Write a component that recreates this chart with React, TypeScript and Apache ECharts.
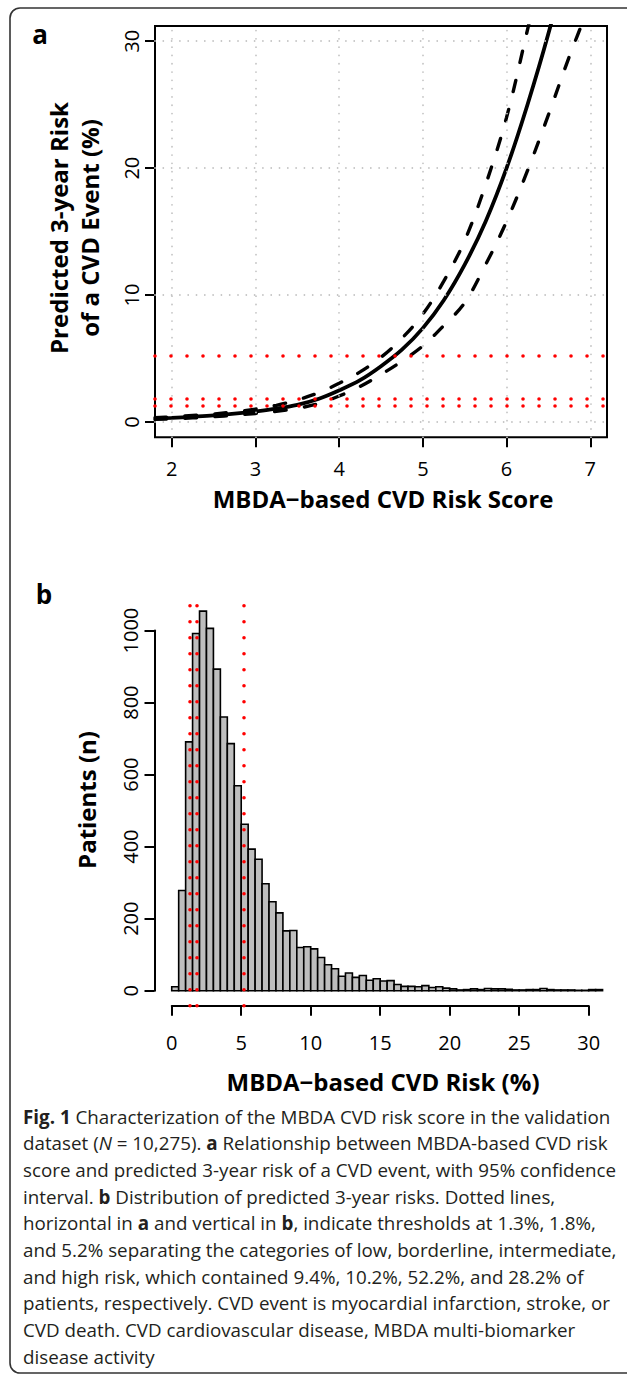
import React, { useEffect, useRef } from "react";
import * as echarts from "echarts";

// ---------- Panel a: risk score vs predicted 3-year risk ----------
const riskScore = [1.8, 2.0, 2.25, 2.5, 2.75, 3.0, 3.25, 3.5, 3.75, 4.0, 4.25, 4.5, 4.75, 5.0, 5.25, 5.5, 5.75, 6.0, 6.25, 6.5, 6.75, 7.0];
const riskPredicted = [0.27, 0.33, 0.42, 0.52, 0.66, 0.84, 1.06, 1.36, 1.82, 2.5, 3.3, 4.4, 5.7, 7.4, 9.6, 12.4, 15.8, 20.0, 25.0, 30.6, 37, 44];
const riskUpper95 = [0.34, 0.41, 0.52, 0.64, 0.8, 1.02, 1.32, 1.74, 2.3, 3.05, 3.95, 5.1, 6.6, 8.5, 11.1, 14.3, 18.7, 24.0, 30.9, 38, 46, 55];
const riskLower95 = [0.21, 0.26, 0.33, 0.42, 0.54, 0.68, 0.85, 1.08, 1.45, 2.05, 2.8, 3.75, 4.8, 6.0, 7.6, 9.4, 12.4, 15.8, 19.8, 24.2, 28.8, 33];
const scoreTicks = [2, 3, 4, 5, 6, 7];
const riskTicks = [0, 10, 20, 30];
const thresholds = [1.3, 1.8, 5.2];

// ---------- Panel b: histogram of predicted risk ----------
const histBinStart = 0;
const histBinWidth = 0.5;
const histCounts = [
  11, 278, 691, 992, 1054, 1006, 893, 760, 686, 569,
  462, 393, 365, 297, 247, 216, 166, 167, 120, 122,
  116, 92, 72, 61, 40, 49, 37, 42, 29, 33,
  27, 28, 17, 12, 12, 11, 14, 9, 11, 7,
  5, 2, 3, 5, 3, 6, 5, 5, 4, 2,
  2, 3, 3, 6, 3, 2, 2, 2, 1, 1, 3, 3,
];
const histXTicks = [0, 5, 10, 15, 20, 25, 30];
const histYTicks = [0, 200, 400, 600, 800, 1000];

const captionLines = [
  "{b|Fig. 1} Characterization of the MBDA CVD risk score in the validation",
  "dataset ({i|N} = 10,275). {b|a} Relationship between MBDA-based CVD risk",
  "score and predicted 3-year risk of a CVD event, with 95% confidence",
  "interval. {b|b} Distribution of predicted 3-year risks. Dotted lines,",
  "horizontal in {b|a} and vertical in {b|b}, indicate thresholds at 1.3%, 1.8%,",
  "and 5.2% separating the categories of low, borderline, intermediate,",
  "and high risk, which contained 9.4%, 10.2%, 52.2%, and 28.2% of",
  "patients, respectively. CVD event is myocardial infarction, stroke, or",
  "CVD death. CVD cardiovascular disease, MBDA multi-biomarker",
  "disease activity",
];

// ---------- layout ----------
const FONT = "'Open Sans', 'Noto Sans', sans-serif";
const CAP = 18.8;
const A = { left: 155, top: 26, width: 452, height: 411.3 };
const aX = [1.8, 7.2];
const aY = [-1.2, 31.2];
const B = { left: 154.5, top: 596, width: 465.3, height: 409.8 };
const bX = [-1.24, 32.24];
const bY = [-42, 1096];

function helperGrid(G: any, xr: number[], yr: number[], xt: number[], yt: number[]) {
  const l = G.left + ((xt[0] - xr[0]) / (xr[1] - xr[0])) * G.width;
  const r = G.left + ((xt[xt.length - 1] - xr[0]) / (xr[1] - xr[0])) * G.width;
  const t = G.top + ((yr[1] - yt[yt.length - 1]) / (yr[1] - yr[0])) * G.height;
  const b = G.top + ((yr[1] - yt[0]) / (yr[1] - yr[0])) * G.height;
  return { l, r, t, b, xOff: G.top + G.height - b, yOff: l - G.left };
}

const dotted = (color: string, width: number, gap: number) => ({
  color,
  width,
  type: [0.001, gap],
  cap: "round",
});

export default function App() {
  const ref = useRef<HTMLDivElement>(null);
  useEffect(() => {
    if (!ref.current) return;
    const chart = echarts.init(ref.current, undefined, { renderer: "svg" });
    const ha = helperGrid(A, aX, aY, scoreTicks, riskTicks);
    const hb = helperGrid(B, bX, bY, histXTicks, histYTicks);

    const hiddenAxis = (gridIndex: number, min: number, max: number) => ({
      type: "value",
      gridIndex,
      min,
      max,
      show: false,
      splitLine: { show: false },
    });
    const visAxis = (gridIndex: number, ticks: number[], pos: string, offset: number, showLine: boolean, margin: number, rotate = 0) => ({
      type: "value",
      gridIndex,
      min: ticks[0],
      max: ticks[ticks.length - 1],
      interval: ticks[1] - ticks[0],
      position: pos,
      offset,
      axisLine: { show: showLine, onZero: false, lineStyle: { color: "#000", width: 2 } },
      axisTick: { show: true, length: 10, inside: false, lineStyle: { color: "#000", width: 2 } },
      axisLabel: {
        show: true,
        color: "#000",
        fontSize: 20,
        fontFamily: FONT,
        margin,
        rotate,
        formatter: (v: number) => String(v),
      },
      splitLine: { show: false },
    });

    const toPairs = (ys: number[]) => riskScore.map((x, i) => [x, ys[i]]);
    const histData = histCounts.map((c, i) => [histBinStart + i * histBinWidth, histBinStart + (i + 1) * histBinWidth, c]);

    const gray = dotted("#c4c4c4", 1.8, 8.3);
    const red = dotted("#ff0000", 3.6, 16);

    const caption = captionLines.map((t, i) => ({
      type: "text",
      x: 23,
      y: 1116.7 + i * 26.65,
      silent: true,
      style: {
        text: t,
        fill: "#231f20",
        fontSize: CAP,
        fontFamily: FONT,
        align: "left",
        verticalAlign: "middle",
        textAlign: "left",
        textVerticalAlign: "middle",
        rich: {
          b: { fontWeight: "bold", fontSize: CAP, fontFamily: FONT, fill: "#231f20" },
          i: { fontStyle: "italic", fontSize: CAP, fontFamily: FONT, fill: "#231f20" },
        },
      },
    }));

    const txt = (text: string, x: number, y: number, size: number, rot = 0) => ({
      type: "text",
      x,
      y,
      rotation: rot,
      silent: true,
      style: {
        text,
        fill: "#000",
        fontSize: size,
        fontWeight: "bold",
        fontFamily: FONT,
        align: "center",
        verticalAlign: "middle",
        textAlign: "center",
        textVerticalAlign: "middle",
      },
    });

    const curve = (name: string, ys: number[], width: number, dashed: boolean, z: number) => ({
      type: "line",
      name,
      xAxisIndex: 0,
      yAxisIndex: 0,
      data: toPairs(ys),
      smooth: 0.35,
      symbol: "none",
      clip: true,
      z,
      lineStyle: dashed
        ? { color: "#000", width, type: [11.5, 18.5], cap: "round" }
        : { color: "#000", width },
    });

    const option: any = {
      animation: false,
      textStyle: { fontFamily: FONT },
      grid: [
        { left: A.left, top: A.top, width: A.width, height: A.height, show: true, borderColor: "#000", borderWidth: 2, backgroundColor: "transparent", containLabel: false, outerBoundsMode: "none" },
        { left: ha.l, top: ha.t, width: ha.r - ha.l, height: ha.b - ha.t, containLabel: false, outerBoundsMode: "none" },
        { left: B.left, top: B.top, width: B.width, height: B.height, containLabel: false, outerBoundsMode: "none" },
        { left: hb.l, top: hb.t, width: hb.r - hb.l, height: hb.b - hb.t, containLabel: false, outerBoundsMode: "none" },
      ],
      xAxis: [
        hiddenAxis(0, aX[0], aX[1]),
        visAxis(1, scoreTicks, "bottom", ha.xOff, false, 21),
        hiddenAxis(2, bX[0], bX[1]),
        visAxis(3, histXTicks, "bottom", hb.xOff, true, 27),
      ],
      yAxis: [
        hiddenAxis(0, aY[0], aY[1]),
        visAxis(1, riskTicks, "left", ha.yOff, false, 14, 90),
        hiddenAxis(2, bY[0], bY[1]),
        visAxis(3, histYTicks, "left", hb.yOff, true, 14, 90),
      ],
      series: [
        {
          type: "line",
          xAxisIndex: 0,
          yAxisIndex: 0,
          data: [],
          z: 1,
          silent: true,
          markLine: {
            silent: true,
            symbol: "none",
            label: { show: false },
            lineStyle: gray,
            data: [
              ...scoreTicks.map((v) => [{ coord: [v, aY[0]] }, { coord: [v, aY[1]] }]),
              ...riskTicks.map((v) => [{ coord: [aX[0], v] }, { coord: [aX[1], v] }]),
            ],
          },
        },
        curve("upper", riskUpper95, 3.4, true, 2),
        curve("lower", riskLower95, 3.4, true, 2),
        curve("predicted", riskPredicted, 3.8, false, 3),
        {
          type: "line",
          xAxisIndex: 0,
          yAxisIndex: 0,
          data: [],
          z: 4,
          silent: true,
          markLine: {
            silent: true,
            symbol: "none",
            label: { show: false },
            lineStyle: red,
            data: thresholds.map((v) => [{ coord: [aX[0], v] }, { coord: [aX[1], v] }]),
          },
        },
        {
          type: "custom",
          xAxisIndex: 2,
          yAxisIndex: 2,
          data: histData,
          encode: { x: [0, 1], y: 2 },
          clip: false,
          z: 2,
          renderItem: (params: any, api: any) => {
            const p0 = api.coord([api.value(0), 0]);
            const p1 = api.coord([api.value(1), api.value(2)]);
            return {
              type: "rect",
              shape: { x: p0[0], y: p1[1], width: p1[0] - p0[0], height: p0[1] - p1[1] },
              style: { fill: "#bebebe", stroke: "#000", lineWidth: 1.6 },
            };
          },
        },
        {
          type: "line",
          xAxisIndex: 2,
          yAxisIndex: 2,
          data: [],
          z: 4,
          silent: true,
          markLine: {
            silent: true,
            symbol: "none",
            label: { show: false },
            lineStyle: red,
            data: thresholds.map((v) => [{ coord: [v, bY[0]] }, { coord: [v, bY[1]] }]),
          },
        },
      ],
      graphic: [
        {
          type: "rect",
          silent: true,
          shape: { x: 10, y: 8, width: 660, height: 1365, r: 10 },
          style: { fill: "none", stroke: "#333", lineWidth: 1.6 },
        },
        txt("a", 40, 34, 26),
        txt("b", 44, 594, 26),
        txt("MBDA\u2212based CVD Risk Score", 383, 498, 24),
        txt("Predicted 3-year Risk", 58, 228, 24, Math.PI / 2),
        txt("of a CVD Event (%)", 89, 228, 24, Math.PI / 2),
        txt("Patients (n)", 86, 800, 24, Math.PI / 2),
        txt("MBDA\u2212based CVD Risk (%)", 383, 1081, 24),
        ...caption,
      ],
    };
    chart.setOption(option);
    return () => chart.dispose();
  }, []);
  return (
    <div
      ref={ref}
      style={{ position: "absolute", left: 0, top: 0, width: 627, height: 1375, background: "#fff" }}
    />
  );
}
